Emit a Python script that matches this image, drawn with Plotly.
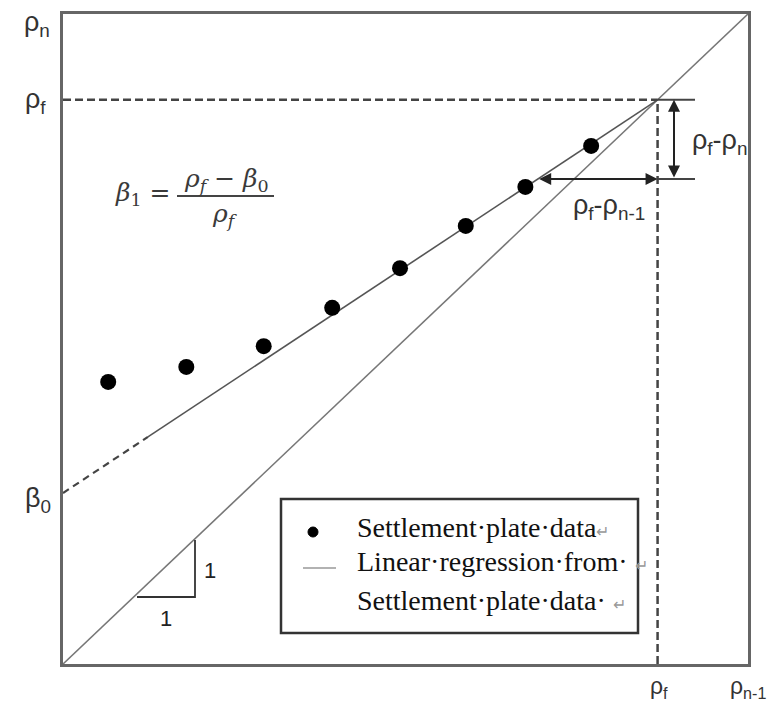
import plotly.graph_objects as go

# ---------------- data (normalised units, both axes 0..1) ----------------
rho_f = 0.868          # final settlement (on the 1:1 line)
beta0 = 0.263          # intercept of regression line
rho_n1 = 0.693         # rho_{n-1} used for the illustrated step
dash_end_x = 0.124     # extrapolated (dashed) part of regression line ends here
dot_x = [0.066, 0.180, 0.293, 0.393, 0.492, 0.588, 0.675, 0.771]
dot_y = [0.434, 0.457, 0.489, 0.548, 0.609, 0.674, 0.734, 0.797]
left_labels = ["ρ<sub>n</sub>", "ρ<sub>f</sub>", "β<sub>0</sub>"]
bottom_labels = ["ρ<sub>f</sub>", "ρ<sub>n-1</sub>"]
legend_labels = [
    "Settlement·plate·data<span style='color:#999;font-size:16px'>↵</span>",
    "Linear·regression·from· <span style='color:#999;font-size:16px'>↵</span>",
    "Settlement·plate·data· <span style='color:#999;font-size:16px'>↵</span>",
]

slope = (rho_f - beta0) / rho_f
rho_n = beta0 + slope * rho_n1

# ---------------- page geometry ----------------
W, H = 776, 705
L, R, T, B = 63, 28, 14, 41
PW, PH = W - L - R, H - T - B


def X(px):
    return (px - L) / PW


def Y(py):
    return (H - B - py) / PH


fig = go.Figure()

# 1:1 line
fig.add_trace(go.Scatter(x=[0, 1], y=[0, 1], mode="lines",
                         line=dict(color="#777", width=1.6), hoverinfo="skip"))
# regression line: dashed extrapolation + solid part
fig.add_trace(go.Scatter(x=[0, dash_end_x], y=[beta0, beta0 + slope * dash_end_x],
                         mode="lines", line=dict(color="#444", width=2.2, dash="7px,5px"),
                         hoverinfo="skip"))
fig.add_trace(go.Scatter(x=[dash_end_x, rho_f], y=[beta0 + slope * dash_end_x, rho_f],
                         mode="lines", line=dict(color="#555", width=1.6), hoverinfo="skip"))
# settlement plate data
fig.add_trace(go.Scatter(x=dot_x, y=dot_y, mode="markers",
                         marker=dict(color="black", size=16), hoverinfo="skip"))

shapes = []
dash_line = dict(color="#444", width=2.5, dash="8px,4px")
shapes.append(dict(type="line", xref="x", yref="y", x0=0, x1=rho_f, y0=rho_f, y1=rho_f, line=dash_line))
shapes.append(dict(type="line", xref="x", yref="y", x0=rho_f, x1=rho_f, y0=0, y1=rho_f, line=dash_line))
# tick lines at the vertical arrow
for yy in (rho_f, rho_n):
    shapes.append(dict(type="line", xref="x", yref="y", x0=rho_f, x1=X(695), y0=yy, y1=yy,
                       line=dict(color="#444", width=2)))
# slope triangle
shapes.append(dict(type="path", xref="x", yref="y",
                   path=f"M {X(137)} {Y(597)} L {X(195)} {Y(597)} L {X(195)} {Y(540)}",
                   line=dict(color="#333", width=1.8)))
# fraction bar
shapes.append(dict(type="line", xref="x", yref="y", x0=X(177), x1=X(274), y0=Y(196), y1=Y(196),
                   line=dict(color="#444", width=1.8)))
# legend box
shapes.append(dict(type="rect", xref="x", yref="y", x0=X(281), x1=X(638), y0=Y(633), y1=Y(499),
                   line=dict(color="#333", width=2.5), fillcolor="white", layer="above"))
shapes.append(dict(type="line", xref="x", yref="y", x0=X(303), x1=X(336), y0=Y(568), y1=Y(568),
                   line=dict(color="#666", width=1.2), layer="above"))
shapes.append(dict(type="circle", xref="x", yref="y", x0=X(308), x1=X(318), y0=Y(537), y1=Y(527),
                   line=dict(color="black", width=1), fillcolor="black", layer="above"))

ann = []
sans = dict(family="Liberation Sans, Arial, sans-serif", size=27, color="#333")
sans_b = dict(family="Liberation Sans, Arial, sans-serif", size=23, color="#333")
# labels outside the plotting area (paper refs so they are not hidden)
ann.append(dict(xref="paper", yref="paper", x=X(37), y=Y(24), text=left_labels[0], font=sans))
ann.append(dict(xref="paper", yref="paper", x=X(35), y=Y(101), text=left_labels[1], font=sans))
ann.append(dict(xref="paper", yref="paper", x=X(38), y=Y(500), text=left_labels[2], font=sans))
ann.append(dict(xref="paper", yref="paper", x=X(659), y=Y(687), text=bottom_labels[0], font=sans_b))
ann.append(dict(xref="paper", yref="paper", x=X(748), y=Y(687), text=bottom_labels[1], font=sans_b))
ann.append(dict(x=X(719), y=Y(142), text="ρ<sub>f</sub>-ρ<sub>n</sub>", font=sans))
ann.append(dict(x=X(609), y=Y(207), text="ρ<sub>f</sub>-ρ<sub>n-1</sub>", font=sans))

# arrows
arrow = dict(text="", showarrow=True, arrowhead=2, arrowside="end+start", arrowsize=1.2,
             arrowwidth=2, arrowcolor="#222", axref="x", ayref="y", standoff=0, startstandoff=0)
ann.append(dict(x=X(674), y=rho_f, ax=X(674), ay=rho_n, **arrow))
ann.append(dict(x=rho_f, y=rho_n, ax=rho_n1, ay=rho_n, **arrow))

# formula
ser = dict(family="DejaVu Serif, serif", size=25, color="#3a3a3a")
ann.append(dict(x=X(173), y=Y(194), text="<i>β</i><sub>1</sub> =", font=ser, xanchor="right"))
ann.append(dict(x=X(226), y=Y(180), text="<i>ρ<sub>f</sub></i> − <i>β</i><sub>0</sub>", font=ser))
ann.append(dict(x=X(225), y=Y(215), text="<i>ρ<sub>f</sub></i>", font=ser))

# triangle labels
one = dict(family="Liberation Sans, Arial, sans-serif", size=22, color="#222")
ann.append(dict(x=X(210), y=Y(570), text="1", font=one))
ann.append(dict(x=X(166), y=Y(618), text="1", font=one))

# legend text
lser = dict(family="Liberation Serif, Times New Roman, serif", size=28, color="#111")
for txt, py in zip(legend_labels, (527, 561, 600)):
    ann.append(dict(x=X(355), y=Y(py), text=txt, font=lser, xanchor="left"))

for a in ann:
    a.setdefault("xref", "x")
    a.setdefault("yref", "y")
    a.setdefault("showarrow", False)
    if a.get("text"):
        a.setdefault("xanchor", "center")
        a.setdefault("yanchor", "middle")

fig.update_layout(
    width=W, height=H, margin=dict(l=L, r=R, t=T, b=B),
    paper_bgcolor="white", plot_bgcolor="white", showlegend=False,
    shapes=shapes, annotations=ann,
    xaxis=dict(range=[0, 1], showgrid=False, zeroline=False, showticklabels=False, ticks="",
               showline=True, mirror=True, linecolor="#666", linewidth=2.5, fixedrange=True),
    yaxis=dict(range=[0, 1], showgrid=False, zeroline=False, showticklabels=False, ticks="",
               showline=True, mirror=True, linecolor="#666", linewidth=2.5, fixedrange=True),
)

fig.write_html("out.html")
